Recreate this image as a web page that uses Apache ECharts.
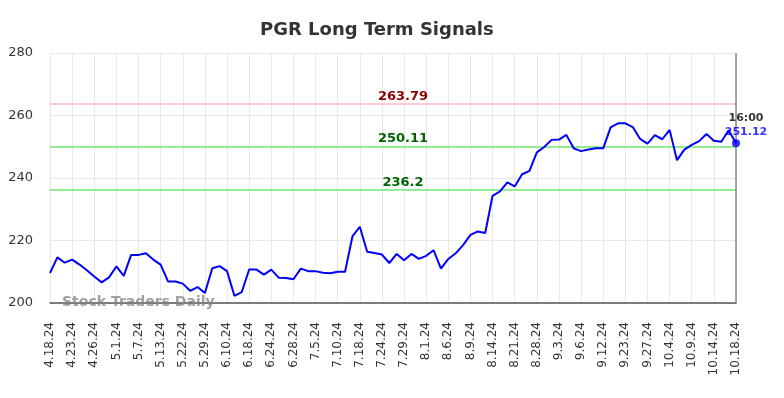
<!DOCTYPE html>
<html>
<head>
<meta charset="utf-8">
<script src="https://cdn.jsdelivr.net/npm/echarts@6/dist/echarts.min.js"></script>
<style>html,body{margin:0;padding:0;background:#fff;}#c{width:784px;height:398px;}</style>
</head>
<body>
<div id="c"></div>
<script>
const categories = [
 '4.18.24','4.19.24','4.22.24','4.23.24','4.24.24','4.25.24','4.26.24','4.29.24','4.30.24',
 '5.1.24','5.2.24','5.6.24','5.7.24','5.8.24','5.10.24','5.13.24','5.15.24','5.20.24',
 '5.22.24','5.23.24','5.28.24','5.29.24','5.31.24','6.5.24','6.10.24','6.12.24','6.14.24',
 '6.18.24','6.20.24','6.21.24','6.24.24','6.25.24','6.26.24','6.28.24','7.1.24','7.3.24',
 '7.5.24','7.8.24','7.9.24','7.10.24','7.12.24','7.16.24','7.18.24','7.22.24','7.23.24',
 '7.24.24','7.25.24','7.26.24','7.29.24','7.30.24','7.31.24','8.1.24','8.2.24','8.5.24',
 '8.6.24','8.7.24','8.8.24','8.9.24','8.12.24','8.13.24','8.14.24','8.16.24','8.19.24',
 '8.21.24','8.23.24','8.26.24','8.28.24','8.29.24','8.30.24','9.3.24','9.4.24','9.5.24',
 '9.6.24','9.9.24','9.11.24','9.12.24','9.16.24','9.19.24','9.23.24','9.24.24','9.26.24',
 '9.27.24','9.30.24','10.2.24','10.4.24','10.7.24','10.8.24','10.9.24','10.10.24','10.11.24',
 '10.14.24','10.16.24','10.17.24','10.18.24'
];
const prices = [
 209.6,214.6,212.9,213.9,212.3,210.5,208.5,206.6,208.2,
 211.7,208.7,215.4,215.4,215.9,213.9,212.3,206.9,206.9,
 206.2,203.9,205.1,203.2,211.1,211.8,210.2,202.3,203.5,
 210.7,210.7,209.1,210.7,208.1,208.0,207.6,211.0,210.2,
 210.2,209.7,209.5,210.0,210.0,221.3,224.4,216.4,216.0,
 215.5,212.8,215.7,213.7,215.7,214.1,215.1,216.9,211.0,
 214.1,215.9,218.5,221.8,222.9,222.4,234.3,235.7,238.6,
 237.3,241.2,242.3,248.2,249.9,252.2,252.3,253.8,249.5,
 248.6,249.1,249.5,249.5,256.2,257.5,257.5,256.3,252.5,
 251.0,253.7,252.4,255.4,245.7,249.1,250.6,251.8,254.1,
 251.9,251.6,255.3,251.12
];
const yTicks = [200, 220, 240, 260, 280];
const resistance = 263.79;
const supports = [250.11, 236.2];
const lastTime = '16:00';

const chart = echarts.init(document.getElementById('c'));
const FONT = 'DejaVu Sans';
const last = categories.length - 1;

chart.setOption({
  animation: false,
  textStyle: { fontFamily: FONT },
  title: {
    text: 'PGR Long Term Signals',
    left: 255, top: 16,
    textStyle: { fontFamily: FONT, fontSize: 18, fontWeight: 'bold', color: '#333' }
  },
  grid: { left: 50, right: 48, top: 53, bottom: 95 },
  xAxis: {
    type: 'category',
    data: categories,
    boundaryGap: false,
    axisLine: { show: true, lineStyle: { color: '#555', width: 1.5 } },
    axisTick: { show: false },
    axisLabel: {
      interval: 2, rotate: 90, fontSize: 12, color: '#333', margin: 19, fontFamily: FONT
    },
    splitLine: { show: true, interval: 2, lineStyle: { color: '#e8e8e8', width: 1 } }
  },
  yAxis: {
    type: 'value',
    min: yTicks[0], max: yTicks[yTicks.length - 1], interval: 20,
    axisLine: { show: false },
    axisTick: { show: false },
    axisLabel: { fontSize: 13, color: '#333', margin: 17, fontFamily: FONT },
    splitLine: { show: true, lineStyle: { color: '#e8e8e8', width: 1 } }
  },
  graphic: [{
    type: 'text', left: 62, top: 295,
    style: { text: 'Stock Traders Daily', fontFamily: FONT, fontSize: 14, fontWeight: 'bold', fill: 'rgba(130,130,130,0.75)' },
    z: 10
  }],
  series: [
    {
      type: 'line',
      data: prices,
      showSymbol: false,
      lineStyle: { color: '#0000ff', width: 2 },
      itemStyle: { color: '#0000ff' },
      z: 5,
      markLine: {
        silent: true,
        symbol: 'none',
        data: [
          { yAxis: resistance, lineStyle: { color: '#ffcccc', width: 2, type: 'solid' },
            label: { show: true, position: 'insideMiddleTop', distance: 1, offset: [10, 0], formatter: String(resistance), color: '#8b0000', fontSize: 13, fontWeight: 'bold', fontFamily: FONT } },
          { yAxis: supports[0], lineStyle: { color: '#90ee90', width: 2, type: 'solid' },
            label: { show: true, position: 'insideMiddleTop', distance: 1, offset: [10, 0], formatter: String(supports[0]), color: '#006400', fontSize: 13, fontWeight: 'bold', fontFamily: FONT } },
          { yAxis: supports[1], lineStyle: { color: '#90ee90', width: 2, type: 'solid' },
            label: { show: true, position: 'insideMiddleTop', distance: 1, offset: [10, 0], formatter: String(supports[1]), color: '#006400', fontSize: 13, fontWeight: 'bold', fontFamily: FONT } },
          { xAxis: categories[last], lineStyle: { color: '#888', width: 1.5, type: 'solid' }, label: { show: false } }
        ]
      }
    },
    {
      type: 'scatter',
      data: [[categories[last], prices[last]]],
      symbol: 'circle',
      symbolSize: 8,
      itemStyle: { color: '#0000ff' },
      z: 6,
      label: {
        show: true, position: 'top', distance: 0, offset: [10, 0],
        formatter: '{t|' + lastTime + '}\n{v|' + prices[last] + '}',
        rich: {
          t: { fontFamily: FONT, fontSize: 11, fontWeight: 'bold', color: '#000', lineHeight: 14, align: 'center' },
          v: { fontFamily: FONT, fontSize: 11, fontWeight: 'bold', color: '#0000ff', lineHeight: 14, align: 'center' }
        }
      }
    }
  ]
});
</script>
</body>
</html>
